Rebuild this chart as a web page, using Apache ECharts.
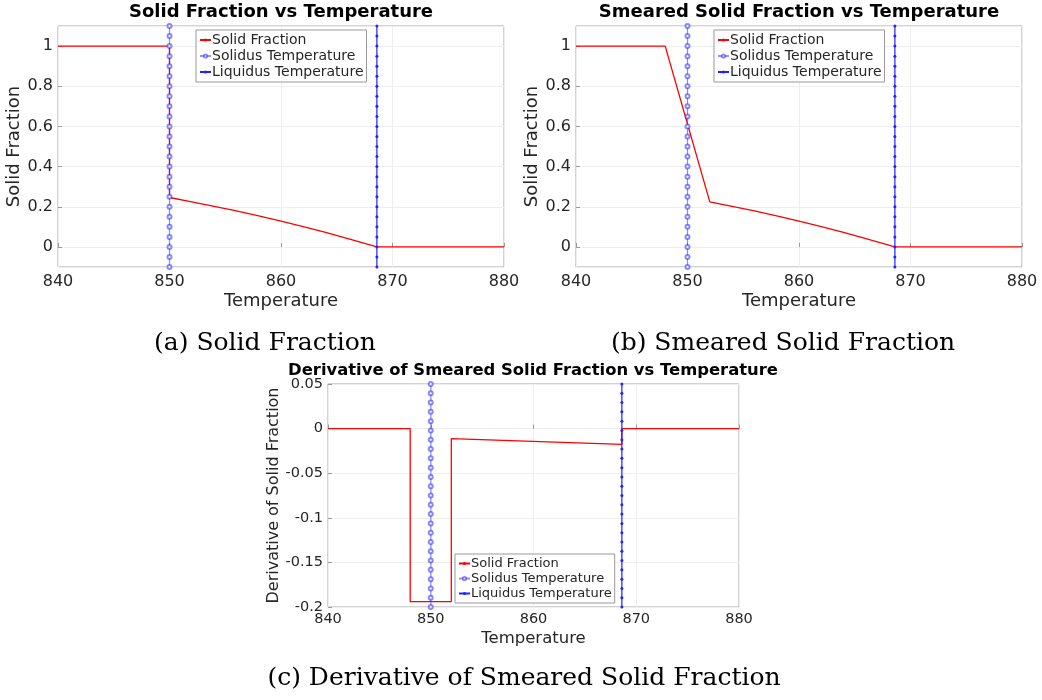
<!DOCTYPE html>
<html>
<head>
<meta charset="utf-8">
<title>Solid Fraction vs Temperature</title>
<script src="https://cdn.jsdelivr.net/npm/echarts@6.0.0/dist/echarts.min.js"></script>
<style>
html, body { margin: 0; padding: 0; background: #fff; }
#main { width: 1042px; height: 700px; }
</style>
</head>
<body>
<div id="main"></div>
<script>
// temperatures of the two phase boundaries
var SOLIDUS = 850;
var LIQUIDUS = 868.6;

// (a) solid fraction
var sfTemp  = [840, 850, 850, 852, 854, 856, 858, 860, 862, 864, 866, 868.6, 880];
var sfValue = [1, 1, 0.246, 0.224, 0.202, 0.179, 0.155, 0.128, 0.101, 0.072, 0.041, 0, 0];

// (b) smeared solid fraction
var smTemp  = [840, 848, 852, 854, 856, 858, 860, 862, 864, 866, 868.6, 880];
var smValue = [1, 1, 0.224, 0.202, 0.179, 0.155, 0.128, 0.101, 0.072, 0.041, 0, 0];

// (c) derivative of smeared solid fraction
var dTemp  = [840, 848, 848, 852, 852, 868.6, 868.6, 880];
var dValue = [0, 0, -0.194, -0.194, -0.0112, -0.0176, 0, 0];

// marker positions along the vertical temperature lines
var markFrac = [-0.1, -0.05, 0, 0.05, 0.1, 0.15, 0.2, 0.25, 0.3, 0.35, 0.4, 0.45, 0.5,
	0.55, 0.6, 0.65, 0.7, 0.75, 0.8, 0.85, 0.9, 0.95, 1, 1.05, 1.1];
var markDeriv = [-0.2, -0.1896, -0.1792, -0.1688, -0.1583, -0.1479, -0.1375, -0.1271,
	-0.1167, -0.1063, -0.0958, -0.0854, -0.075, -0.0646, -0.0542, -0.0438, -0.0333,
	-0.0229, -0.0125, -0.0021, 0.0083, 0.0188, 0.0292, 0.0396, 0.05];

var xTicks = [840, 850, 860, 870, 880];
var legendNames = ['Solid Fraction', 'Solidus Temperature', 'Liquidus Temperature'];

var FONT = '"DejaVu Sans", sans-serif';
var SERIF = '"DejaVu Serif", serif';
var TXT = '#262626';

function zip(xs, ys) {
	var out = [];
	for (var i = 0; i < xs.length; i++) out.push([xs[i], ys[i]]);
	return out;
}
function vline(x, ys) {
	return ys.map(function(y) { return [x, y]; });
}

function xAxisFor(idx, fs, nameFs, margin, nameGap) {
	return {
		gridIndex: idx, type: 'value', min: xTicks[0], max: xTicks[xTicks.length - 1], interval: 10,
		axisLine: { show: false },
		axisTick: { inside: true, length: 4, lineStyle: { color: '#999' } },
		axisLabel: { fontSize: fs, color: TXT, fontFamily: FONT, margin: margin },
		splitLine: { lineStyle: { color: '#eeeeee' } },
		name: 'Temperature', nameLocation: 'middle', nameGap: nameGap,
		nameTextStyle: { fontSize: nameFs, color: TXT, fontFamily: FONT }
	};
}

function seriesFor(idx, temps, vals, markYs) {
	return [
		{
			name: 'Solid Fraction', type: 'line', xAxisIndex: idx, yAxisIndex: idx,
			data: zip(temps, vals), symbol: 'none', z: 2,
			lineStyle: { color: '#ff0000', width: 1.3 }, itemStyle: { color: '#ff0000' }
		},
		{
			name: 'Solidus Temperature', type: 'line', xAxisIndex: idx, yAxisIndex: idx,
			data: vline(SOLIDUS, markYs), symbol: 'emptyCircle', symbolSize: 4, z: 3,
			lineStyle: { color: 'rgba(40,40,255,0.5)', width: 1.2 },
			itemStyle: { color: 'rgba(40,40,255,0.55)', borderWidth: 0.8 }
		},
		{
			name: 'Liquidus Temperature', type: 'line', xAxisIndex: idx, yAxisIndex: idx,
			data: vline(LIQUIDUS, markYs), symbol: 'circle', symbolSize: 3, z: 4,
			lineStyle: { color: '#2222ff', width: 1.2 },
			itemStyle: { color: '#2222ff' }
		}
	];
}

function legendFor(left, top, fs) {
	return {
		left: left, top: top, orient: 'vertical', data: legendNames,
		backgroundColor: '#fff', borderColor: '#999', borderWidth: 1, borderRadius: 0,
		padding: [3, 3], itemGap: 2, itemWidth: 11, itemHeight: 4,
		selectedMode: false,
		textStyle: { fontSize: fs, color: TXT, fontFamily: FONT, padding: [0, 0, 0, -4] }
	};
}

var chart = echarts.init(document.getElementById('main'));
chart.setOption({
	animation: false,
	backgroundColor: '#fff',
	title: [
		{ text: 'Solid Fraction vs Temperature', left: 281, top: 3, textAlign: 'center', padding: 0,
		  textStyle: { fontSize: 18, fontWeight: 'bold', color: '#000', fontFamily: FONT } },
		{ text: 'Smeared Solid Fraction vs Temperature', left: 799, top: 3, textAlign: 'center', padding: 0,
		  textStyle: { fontSize: 18, fontWeight: 'bold', color: '#000', fontFamily: FONT } },
		{ text: 'Derivative of Smeared Solid Fraction vs Temperature', left: 533, top: 363, textAlign: 'center', padding: 0,
		  textStyle: { fontSize: 16.4, fontWeight: 'bold', color: '#000', fontFamily: FONT } }
	],
	grid: [
		{ left: 58, top: 26, width: 446, height: 241, show: true, borderColor: '#a6a6a6', borderWidth: 1 },
		{ left: 576, top: 26, width: 446, height: 241, show: true, borderColor: '#a6a6a6', borderWidth: 1 },
		{ left: 328, top: 384, width: 411, height: 223, show: true, borderColor: '#a6a6a6', borderWidth: 1 }
	],
	xAxis: [
		xAxisFor(0, 16, 18, 7, 25),
		xAxisFor(1, 16, 18, 7, 25),
		xAxisFor(2, 14.5, 16.5, 5, 23)
	],
	yAxis: [0, 1].map(function(i) {
		return {
			gridIndex: i, type: 'value', min: -0.1, max: 1.1, splitNumber: 6,
			axisLine: { show: false },
			axisTick: { inside: true, length: 4, lineStyle: { color: '#999' } },
			axisLabel: { fontSize: 16, color: TXT, fontFamily: FONT, margin: 5,
				showMinLabel: false, showMaxLabel: false },
			splitLine: { lineStyle: { color: '#eeeeee' } },
			name: 'Solid Fraction', nameLocation: 'middle', nameGap: 31,
			nameTextStyle: { fontSize: 18, color: TXT, fontFamily: FONT }
		};
	}).concat([{
		gridIndex: 2, type: 'value', min: -0.2, max: 0.05, interval: 0.05,
		axisLine: { show: false },
		axisTick: { inside: true, length: 4, lineStyle: { color: '#999' } },
		axisLabel: { fontSize: 14.5, color: TXT, fontFamily: FONT, margin: 5 },
		splitLine: { lineStyle: { color: '#eeeeee' } },
		name: 'Derivative of Solid Fraction', nameLocation: 'middle', nameGap: 43,
		nameTextStyle: { fontSize: 16, color: TXT, fontFamily: FONT }
	}]),
	legend: [
		legendFor(196, 30, 14),
		legendFor(714, 30, 14),
		legendFor(455, 554, 13)
	],
	series: []
		.concat(seriesFor(0, sfTemp, sfValue, markFrac))
		.concat(seriesFor(1, smTemp, smValue, markFrac))
		.concat(seriesFor(2, dTemp, dValue, markDeriv)),
	graphic: [
		{ type: 'text', x: 265, y: 343, style: { text: '(a) Solid Fraction', align: 'center', verticalAlign: 'middle',
		  font: '25px ' + SERIF, fill: '#000' } },
		{ type: 'text', x: 783, y: 343, style: { text: '(b) Smeared Solid Fraction', align: 'center', verticalAlign: 'middle',
		  font: '25px ' + SERIF, fill: '#000' } },
		{ type: 'text', x: 524, y: 678, style: { text: '(c) Derivative of Smeared Solid Fraction', align: 'center', verticalAlign: 'middle',
		  font: '25px ' + SERIF, fill: '#000' } }
	]
});
</script>
</body>
</html>
